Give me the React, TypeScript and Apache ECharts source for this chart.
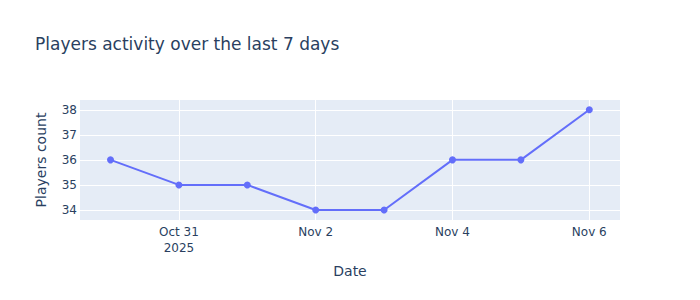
import React, { useEffect, useRef } from "react";
import * as echarts from "echarts";

// Day offsets relative to Oct 31, 2025
const dayOffsets = [-1, 0, 1, 2, 3, 4, 5, 6];
const playerCounts = [36, 35, 35, 34, 34, 36, 36, 38];
const xTickValues = [0, 2, 4, 6];
const xTickLabels = ["Oct 31\n2025", "Nov 2", "Nov 4", "Nov 6"];
const yTickValues = [34, 35, 36, 37, 38];

export default function App() {
  const ref = useRef<HTMLDivElement>(null);
  useEffect(() => {
    if (!ref.current) return;
    const chart = echarts.init(ref.current, undefined, { renderer: "svg" });
    const font = "'DejaVu Sans', Verdana, sans-serif";
    const txt = "#2a3f5f";
    chart.setOption({
      animation: false,
      backgroundColor: "#ffffff",
      title: {
        text: "Players activity over the last 7 days",
        left: 30,
        top: 30,
        textStyle: { fontFamily: font, fontSize: 17, fontWeight: "normal", color: txt },
      },
      grid: {
        left: 80,
        top: 100,
        width: 540,
        height: 120,
        show: true,
        backgroundColor: "#E5ECF6",
        borderWidth: 0,
      },
      xAxis: {
        type: "value",
        min: -1.446,
        max: 6.449,
        name: "Date",
        nameLocation: "middle",
        nameGap: 44,
        nameTextStyle: { fontFamily: font, fontSize: 14, color: txt },
        axisLine: { show: false },
        axisTick: { show: false, customValues: xTickValues },
        axisLabel: {
          customValues: xTickValues,
          fontFamily: font,
          fontSize: 12,
          color: txt,
          margin: 4,
          lineHeight: 16,
          formatter: (v: number) => {
            const i = xTickValues.indexOf(Math.round(v));
            return i >= 0 ? xTickLabels[i] : "";
          },
        },
        splitLine: { show: true, lineStyle: { color: "#ffffff", width: 1 } },
      },
      yAxis: {
        type: "value",
        min: 33.6,
        max: 38.39,
        name: "Players count",
        nameLocation: "middle",
        nameGap: 32,
        nameTextStyle: { fontFamily: font, fontSize: 14, color: txt },
        axisLine: { show: false },
        axisTick: { show: false, customValues: yTickValues },
        axisLabel: {
          customValues: yTickValues,
          fontFamily: font,
          fontSize: 12,
          color: txt,
          margin: 3,
        },
        splitLine: { show: true, lineStyle: { color: "#ffffff", width: 1 } },
      },
      series: [
        {
          type: "line",
          data: dayOffsets.map((d, i) => [d, playerCounts[i]]),
          symbol: "circle",
          symbolSize: 7,
          showSymbol: true,
          lineStyle: { color: "#636efa", width: 2 },
          itemStyle: { color: "#636efa" },
        },
      ],
    });
    return () => chart.dispose();
  }, []);
  return (
    <div
      ref={ref}
      style={{ position: "absolute", left: 0, top: 0, width: 700, height: 300 }}
    />
  );
}
